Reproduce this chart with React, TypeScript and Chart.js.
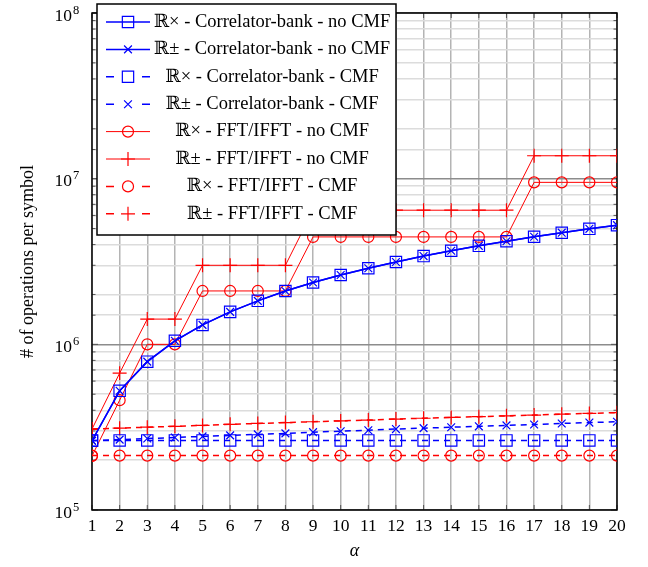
import React, { useEffect, useRef } from "react";
import { Chart, registerables } from "chart.js";

Chart.register(...registerables);

const alpha = [1, 2, 3, 4, 5, 6, 7, 8, 9, 10, 11, 12, 13, 14, 15, 16, 17, 18, 19, 20];

const corrRxNoCmf = [2.62e5, 5.24e5, 7.86e5, 1.05e6, 1.31e6, 1.57e6, 1.83e6, 2.1e6, 2.36e6, 2.62e6, 2.88e6, 3.14e6, 3.41e6, 3.67e6, 3.93e6, 4.19e6, 4.46e6, 4.72e6, 4.98e6, 5.24e6];
const corrPmNoCmf = [2.62e5, 5.24e5, 7.86e5, 1.05e6, 1.31e6, 1.57e6, 1.83e6, 2.1e6, 2.36e6, 2.62e6, 2.88e6, 3.14e6, 3.41e6, 3.67e6, 3.93e6, 4.19e6, 4.46e6, 4.72e6, 4.98e6, 5.24e6];
const corrRxCmf = [2.63e5, 2.63e5, 2.63e5, 2.63e5, 2.63e5, 2.63e5, 2.63e5, 2.63e5, 2.63e5, 2.63e5, 2.63e5, 2.63e5, 2.63e5, 2.63e5, 2.63e5, 2.63e5, 2.63e5, 2.63e5, 2.63e5, 2.63e5];
const corrPmCmf = [2.62e5, 2.66e5, 2.7e5, 2.74e5, 2.78e5, 2.82e5, 2.86e5, 2.9e5, 2.95e5, 2.99e5, 3.03e5, 3.08e5, 3.12e5, 3.16e5, 3.2e5, 3.24e5, 3.28e5, 3.33e5, 3.37e5, 3.41e5];
const fftRxNoCmf = [2.12e5, 4.6e5, 1.0e6, 1.0e6, 2.1e6, 2.1e6, 2.1e6, 2.1e6, 4.45e6, 4.45e6, 4.45e6, 4.45e6, 4.45e6, 4.45e6, 4.45e6, 4.45e6, 9.5e6, 9.5e6, 9.5e6, 9.5e6];
const fftPmNoCmf = [3.08e5, 6.7e5, 1.42e6, 1.42e6, 3.0e6, 3.0e6, 3.0e6, 3.0e6, 6.45e6, 6.45e6, 6.45e6, 6.45e6, 6.45e6, 6.45e6, 6.45e6, 6.45e6, 1.375e7, 1.375e7, 1.375e7, 1.375e7];
const fftRxCmf = [2.13e5, 2.13e5, 2.13e5, 2.13e5, 2.13e5, 2.13e5, 2.13e5, 2.13e5, 2.13e5, 2.13e5, 2.13e5, 2.13e5, 2.13e5, 2.13e5, 2.13e5, 2.13e5, 2.13e5, 2.13e5, 2.13e5, 2.13e5];
const fftPmCmf = [3.08e5, 3.12e5, 3.16e5, 3.2e5, 3.24e5, 3.29e5, 3.33e5, 3.37e5, 3.41e5, 3.45e5, 3.49e5, 3.54e5, 3.58e5, 3.62e5, 3.66e5, 3.7e5, 3.74e5, 3.79e5, 3.83e5, 3.87e5];

const seriesLabels = [
  "ℝ× - Correlator-bank - no CMF",
  "ℝ± - Correlator-bank - no CMF",
  "ℝ× - Correlator-bank - CMF",
  "ℝ± - Correlator-bank - CMF",
  "ℝ× - FFT/IFFT - no CMF",
  "ℝ± - FFT/IFFT - no CMF",
  "ℝ× - FFT/IFFT - CMF",
  "ℝ± - FFT/IFFT - CMF",
];

const yTickBase = "10";
const yTickExponents = [5, 6, 7, 8];

const FONT = "'Liberation Serif', 'DejaVu Serif', serif";
const BLUE = "rgb(0,0,255)";
const RED = "rgb(255,0,0)";

function drawMarker(ctx: CanvasRenderingContext2D, style: string, r: number, x: number, y: number) {
  ctx.beginPath();
  if (style === "rect") {
    const s = Math.SQRT1_2 * r;
    ctx.rect(x - s, y - s, 2 * s, 2 * s);
  } else if (style === "circle") {
    ctx.arc(x, y, r, 0, Math.PI * 2);
  } else if (style === "crossRot") {
    const o = Math.SQRT1_2 * r;
    ctx.moveTo(x - o, y - o);
    ctx.lineTo(x + o, y + o);
    ctx.moveTo(x - o, y + o);
    ctx.lineTo(x + o, y - o);
  } else if (style === "cross") {
    ctx.moveTo(x - r, y);
    ctx.lineTo(x + r, y);
    ctx.moveTo(x, y - r);
    ctx.lineTo(x, y + r);
  }
  ctx.stroke();
}

const framePlugin = {
  id: "frame",
  beforeDatasetsDraw(chart: any) {
    const { ctx, chartArea } = chart;
    const { left, right, top, bottom } = chartArea;
    ctx.save();
    ctx.strokeStyle = "#555";
    ctx.lineWidth = 1;
    const xs = chart.scales.x;
    xs.ticks.forEach((t: any) => {
      const px = xs.getPixelForValue(t.value);
      ctx.beginPath();
      ctx.moveTo(px, bottom);
      ctx.lineTo(px, bottom - 5);
      ctx.moveTo(px, top);
      ctx.lineTo(px, top + 5);
      ctx.stroke();
    });
    const ys = chart.scales.y;
    ys.ticks.forEach((t: any) => {
      const py = ys.getPixelForValue(t.value);
      const lg = Math.log10(t.value);
      const major = Math.abs(lg - Math.round(lg)) < 1e-6;
      const len = major ? 6 : 3.5;
      ctx.beginPath();
      ctx.moveTo(left, py);
      ctx.lineTo(left + len, py);
      ctx.moveTo(right, py);
      ctx.lineTo(right - len, py);
      ctx.stroke();
    });
    ctx.strokeStyle = "#000";
    ctx.lineWidth = 1.5;
    ctx.strokeRect(left, top, right - left, bottom - top);
    ctx.restore();
  },
  afterDraw(chart: any) {
    const ctx: CanvasRenderingContext2D = chart.ctx;
    const ys = chart.scales.y;
    const left = chart.chartArea.left;
    ctx.save();
    ctx.fillStyle = "#000";
    ctx.textBaseline = "alphabetic";
    yTickExponents.forEach((e) => {
      const py = ys.getPixelForValue(Math.pow(10, e));
      const supX = left - 19;
      ctx.font = `17.5px ${FONT}`;
      ctx.textAlign = "right";
      ctx.fillText(yTickBase, supX - 1, py + 7.5);
      ctx.font = `12.5px ${FONT}`;
      ctx.textAlign = "left";
      ctx.fillText(String(e), supX, py + 0.5);
    });
    ctx.restore();
  },
};

const legendPlugin = {
  id: "customLegend",
  afterDraw(chart: any) {
    const ctx: CanvasRenderingContext2D = chart.ctx;
    const x0 = 97, y0 = 4, w = 299, h = 231;
    ctx.save();
    ctx.fillStyle = "#fff";
    ctx.fillRect(x0, y0, w, h);
    ctx.lineWidth = 1.5;
    ctx.strokeStyle = "#000";
    ctx.strokeRect(x0, y0, w, h);
    chart.data.datasets.forEach((ds: any, i: number) => {
      const y = 22 + i * 27.4;
      const mx = 128;
      ctx.strokeStyle = ds.borderColor;
      ctx.lineWidth = ds.borderWidth;
      ctx.setLineDash([]);
      ctx.beginPath();
      if (ds.borderDash && ds.borderDash.length) {
        ctx.moveTo(106, y);
        ctx.lineTo(114, y);
        ctx.moveTo(142, y);
        ctx.lineTo(150, y);
      } else {
        ctx.moveTo(106, y);
        ctx.lineTo(150, y);
      }
      ctx.stroke();
      ctx.lineWidth = ds.pointBorderWidth;
      drawMarker(ctx, ds.pointStyle, ds.pointRadius, mx, y);
      ctx.fillStyle = "#000";
      ctx.font = `18.5px ${FONT}`;
      ctx.textAlign = "center";
      ctx.textBaseline = "middle";
      ctx.fillText(ds.label, 272, y);
    });
    ctx.restore();
  },
};

export default function App() {
  const canvasRef = useRef<HTMLCanvasElement | null>(null);

  useEffect(() => {
    if (!canvasRef.current) return;
    const mk = (arr: number[]) => alpha.map((a, i) => ({ x: a, y: arr[i] }));
    const cfg = (
      label: string,
      arr: number[],
      color: string,
      dashed: boolean,
      pointStyle: string,
      pointRadius: number,
      borderWidth: number
    ) => ({
      label,
      data: mk(arr),
      borderColor: color,
      backgroundColor: "transparent",
      borderWidth,
      borderDash: dashed ? [6, 5] : [],
      pointStyle,
      pointRadius,
      pointBorderWidth: 1.2,
      pointBorderColor: color,
      pointBackgroundColor: "transparent",
      tension: 0,
      fill: false,
    });

    const chart = new Chart(canvasRef.current, {
      type: "line",
      data: {
        datasets: [
          cfg(seriesLabels[0], corrRxNoCmf, BLUE, false, "rect", 8, 1.5),
          cfg(seriesLabels[1], corrPmNoCmf, BLUE, false, "crossRot", 5.5, 1.5),
          cfg(seriesLabels[2], corrRxCmf, BLUE, true, "rect", 8, 1.5),
          cfg(seriesLabels[3], corrPmCmf, BLUE, true, "crossRot", 5.5, 1.5),
          cfg(seriesLabels[4], fftRxNoCmf, RED, false, "circle", 5.5, 1),
          cfg(seriesLabels[5], fftPmNoCmf, RED, false, "cross", 7, 1),
          cfg(seriesLabels[6], fftRxCmf, RED, true, "circle", 5.5, 1.5),
          cfg(seriesLabels[7], fftPmCmf, RED, true, "cross", 7, 1.5),
        ] as any,
      },
      options: {
        animation: false,
        responsive: false,
        devicePixelRatio: 1,
        layout: { padding: { top: 13, right: 31, left: 0, bottom: 0 } },
        plugins: { legend: { display: false }, tooltip: { enabled: false } },
        scales: {
          x: {
            type: "linear",
            min: 1,
            max: 20,
            afterFit: (s: any) => {
              s.height = 57;
            },
            ticks: {
              stepSize: 1,
              autoSkip: false,
              maxRotation: 0,
              padding: 6,
              color: "#000",
              font: { family: FONT, size: 17.5 },
            },
            grid: { drawTicks: false, color: "#b4b4b4", lineWidth: 1.5 },
            border: { display: false },
            title: {
              display: true,
              text: "α",
              color: "#000",
              font: { family: FONT, size: 18, style: "italic" },
              padding: { top: 0, bottom: 5 },
            },
          },
          y: {
            type: "logarithmic",
            min: 1e5,
            max: 1e8,
            afterFit: (s: any) => {
              s.width = 92;
            },
            ticks: {
              display: false,
              autoSkip: false,
            },
            grid: {
              drawTicks: false,
              lineWidth: 1.5,
              color: (c: any) => {
                const v = c.tick ? c.tick.value : 1;
                const lg = Math.log10(v);
                return Math.abs(lg - Math.round(lg)) < 1e-6 ? "#8c8c8c" : "#dcdcdc";
              },
            },
            border: { display: false },
            title: {
              display: true,
              text: "# of operations per symbol",
              color: "#000",
              font: { family: FONT, size: 18 },
              padding: { top: 17, bottom: 0 },
            },
          },
        },
      } as any,
      plugins: [framePlugin, legendPlugin],
    });
    return () => chart.destroy();
  }, []);

  return (
    <div style={{ position: "absolute", left: 0, top: 0, width: 648, height: 567, background: "#fff" }}>
      <canvas ref={canvasRef} width={648} height={567} />
    </div>
  );
}
